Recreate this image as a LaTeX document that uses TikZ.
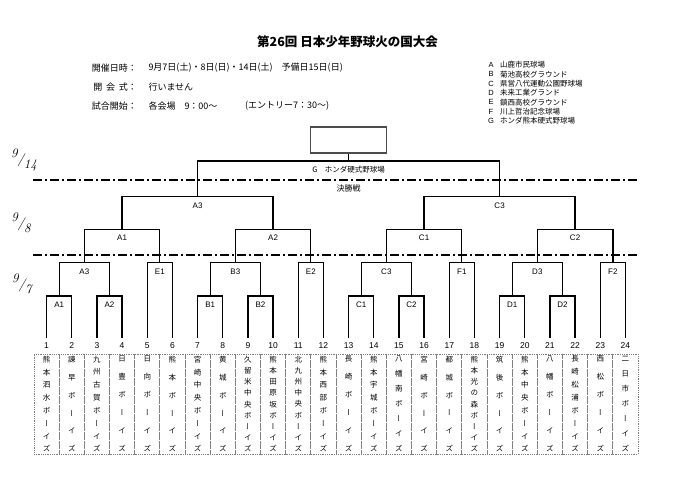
\documentclass[tikz,border=0pt]{standalone}
\usepackage{fontspec}
\setmainfont{Liberation Sans}
\newfontfamily\jp{Noto Sans CJK JP}
\newfontfamily\tatefont[RawFeature=+vert]{Noto Sans CJK JP}
\newfontfamily\handfont{Latin Modern Roman}

% stacked (vertical) team name, one character per line, spread over the cell
\newcommand\tate[1]{\parbox[c][96pt][s]{16pt}{\tatefont\fontsize{7.5}{8}\selectfont
  \foreach \ch [count=\k] in #1 {\ifnum\k>1 \vfill\fi\centerline{\ch}}}}
% day written as a slanted fraction
\newcommand\dayfrac[2]{\raisebox{5pt}{#1}\raisebox{-1pt}{/}\raisebox{-6pt}{#2}}

\tikzset{
  bracket/.style={line width=1.3pt},
  gamelbl/.style={anchor=north, inner xsep=0pt, inner ysep=5.3pt, text height=5.8pt,
    text depth=0pt, font=\fontsize{8}{8}\selectfont},
  num/.style={inner xsep=1pt, inner ysep=4pt, text height=6pt, text depth=0pt,
    font=\fontsize{8.5}{9}\selectfont},
  team/.style={draw=gray, densely dotted, line width=0.8pt, minimum width=25.167pt,
    minimum height=100pt, inner sep=0pt},
  daydiv/.style={line width=1.6pt, dash pattern=on 9pt off 3pt on 2pt off 3pt},
  datelbl/.style={inner sep=0pt, font=\handfont\itshape\fontsize{13}{13}\selectfont},
  info/.style={anchor=west, inner sep=0pt, font=\jp\fontsize{9}{9}\selectfont},
  legkey/.style={inner sep=0pt, font=\fontsize{7.5}{8}\selectfont},
  legtxt/.style={anchor=west, inner sep=0pt, font=\jp\fontsize{7.5}{8}\selectfont},
  champbox/.style={draw=black!70, line width=1.6pt, minimum width=76pt, minimum height=26pt},
}

\begin{document}
\begin{tikzpicture}[x=1pt, y=-1pt]
  \fill[white] (0,0) rectangle (700,495);
  \useasboundingbox (0,0) rectangle (700,495);

  % Heading
  \node[font=\jp\bfseries\fontsize{12.5}{13}\selectfont] (maintitle) at (347.5,42) {第26回 日本少年野球火の国大会};
  \node[info] (kaisaiLbl) at (91.7,67.7) {\makebox[36pt][s]{開\hfill 催\hfill 日\hfill 時}：};
  \node[info] (kaisaiVal) at (148.3,67.7) {9月7日(土)・8日(日)・14日(土)　予備日15日(日)};
  \node[info] (kaikaiLbl) at (91.7,87) {\makebox[36pt][s]{\,開\hfill 会\hfill 式}：};
  \node[info] (kaikaiVal) at (148.3,87) {行いません};
  \node[info] (shiaiLbl) at (91.7,106) {\makebox[36pt][s]{試\hfill 合\hfill 開\hfill 始}：};
  \node[info] (shiaiVal) at (148.3,106) {各会場　9：00～};
  \node[info] (entry) at (245,106) {(エントリー7：30～)};

  % Grounds
  \foreach \L/\place [count=\i from 0] in {A/山鹿市民球場, B/菊池高校グラウンド,
      C/県営八代運動公園野球場, D/未来工業グランド, E/鎮西高校グラウンド,
      F/川上哲治記念球場, G/ホンダ熊本硬式野球場}{
    \node[legkey] (key\L) at (491,{65+9.3*\i}) {\L};
    \node[legtxt] (place\L) at (500,{65+9.3*\i}) {\place};
  }

  % Days
  \node[datelbl] (day914) at (24,160) {\dayfrac{9}{14}};
  \node[datelbl] (day98) at (21,223) {\dayfrac{9}{8}};
  \node[datelbl] (day97) at (22,284) {\dayfrac{9}{7}};
  \draw[daydiv] (33,180) -- (637,180);
  \draw[daydiv] (33,255) -- (637,255);

  % Teams
  \foreach \name [count=\i] in {{熊,本,泗,水,ボ,ー,イ,ズ}, {諫,早,ボ,ー,イ,ズ},
      {九,州,古,賀,ボ,ー,イ,ズ}, {日,豊,ボ,ー,イ,ズ}, {日,向,ボ,ー,イ,ズ},
      {熊,本,ボ,ー,イ,ズ}, {宮,崎,中,央,ボ,ー,イ,ズ}, {黄,城,ボ,ー,イ,ズ},
      {久,留,米,中,央,ボ,ー,イ,ズ}, {熊,本,田,原,坂,ボ,ー,イ,ズ},
      {北,九,州,中,央,ボ,ー,イ,ズ}, {熊,本,西,部,ボ,ー,イ,ズ}, {長,崎,ボ,ー,イ,ズ},
      {熊,本,宇,城,ボ,ー,イ,ズ}, {八,幡,南,ボ,ー,イ,ズ}, {宮,崎,ボ,ー,イ,ズ},
      {都,城,ボ,ー,イ,ズ}, {熊,本,光,の,森,ボ,ー,イ,ズ}, {筑,後,ボ,ー,イ,ズ},
      {熊,本,中,央,ボ,ー,イ,ズ}, {八,幡,ボ,ー,イ,ズ}, {長,崎,松,浦,ボ,ー,イ,ズ},
      {西,松,ボ,ー,イ,ズ}, {二,日,市,ボ,ー,イ,ズ}}{
    \node[num] (n\i) at ({34+(\i-0.5)*25.167},345.3) {\i};
    \node[team] (t\i) at ({34+(\i-0.5)*25.167},404) {\tate{\name}};
  }

  % Day 1 and quarter finals, six teams per block
  \foreach \ga/\gb/\gc/\gd/\ge [count=\k from 0] in {A1/A2/A3/E1/A1, B1/B2/B3/E2/A2,
      C1/C2/C3/F1/C1, D1/D2/D3/F2/C2}{
    \pgfmathsetmacro\xa{34+(6*\k+0.5)*25.167}
    \pgfmathtruncatemacro\ca{6*\k+1}
    \pgfmathtruncatemacro\cb{6*\k+2}
    \pgfmathtruncatemacro\cc{6*\k+3}
    \pgfmathtruncatemacro\cd{6*\k+4}
    \pgfmathtruncatemacro\ce{6*\k+5}
    \pgfmathtruncatemacro\cf{6*\k+6}
    \node[gamelbl] (g\k-a) at ({\xa+12.58},296) {\ga};
    \node[gamelbl] (g\k-b) at ({\xa+62.92},296) {\gb};
    \node[gamelbl] (g\k-c) at ({\xa+37.75},262.7) {\gc};
    \node[gamelbl] (g\k-d) at ({\xa+113.25},262.7) {\gd};
    \node[gamelbl] (g\k-e) at ({\xa+75.5},229.3) {\ge};
    \draw[bracket] (n\ca) |- (g\k-a.north) -| (n\cb);
    \draw[bracket] (n\cc) |- (g\k-b.north) -| (n\cd);
    \draw[bracket] (g\k-a.north) |- (g\k-c.north) -| (g\k-b.north);
    \draw[bracket] (n\ce) |- (g\k-d.north) -| (n\cf);
    \draw[bracket] (g\k-c.north) |- (g\k-e.north) -| (g\k-d.north);
  }

  % Semi finals and final
  \node[gamelbl] (semiA) at (197.58,196.7) {A3};
  \node[gamelbl] (semiC) at (499.58,196.7) {C3};
  \node[gamelbl, font=\jp\fontsize{7.5}{8}\selectfont] (fin) at (348.58,161) {G　ホンダ硬式野球場};
  \node[font=\jp\fontsize{8}{8}\selectfont] (kessho) at (348.58,188) {決勝戦};
  \node[champbox] (champ) at (348.58,140) {};
  \draw[bracket] (g0-e.north) |- (semiA.north) -| (g1-e.north);
  \draw[bracket] (g2-e.north) |- (semiC.north) -| (g3-e.north);
  \draw[bracket] (semiA.north) |- (fin.north) -| (semiC.north);
  \draw[bracket] (fin.north) -- (champ);
\end{tikzpicture}
\end{document}
